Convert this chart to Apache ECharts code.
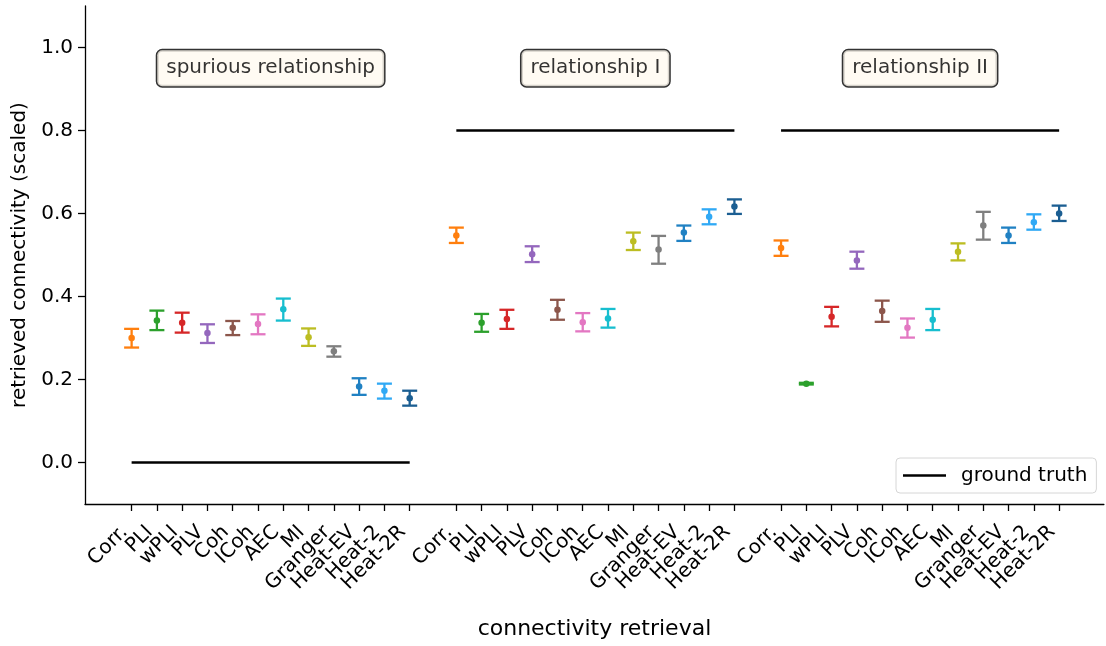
<!DOCTYPE html>
<html>
<head>
<meta charset="utf-8">
<script src="https://cdn.jsdelivr.net/npm/echarts@6/dist/echarts.min.js"></script>
<style>
html,body{margin:0;padding:0;background:#fff;}
#chart{width:1106px;height:646px;}
</style>
</head>
<body>
<div id="chart"></div>
<script>
// ---- data ----
const methods = ['Corr.','PLI','wPLI','PLV','Coh','ICoh','AEC','MI','Granger','Heat-EV','Heat-2','Heat-2R'];
const colors = ['#ff7f0e','#2ca02c','#d62728','#9467bd','#8c564b','#e377c2','#17becf','#bcbd22','#7f7f7f','#2081c3','#30a9f5','#1b5e92'];
const groupTitles = ['spurious relationship','relationship I','relationship II'];
const groundTruth = [0.0, 0.8, 0.8];
const yTicks = [0.0, 0.2, 0.4, 0.6, 0.8, 1.0];

// group 1: spurious relationship
const mean1 = [0.300,0.342,0.337,0.312,0.325,0.334,0.369,0.302,0.268,0.183,0.173,0.155];
const low1  = [0.277,0.319,0.313,0.288,0.307,0.309,0.342,0.281,0.255,0.163,0.154,0.137];
const high1 = [0.322,0.366,0.361,0.333,0.341,0.357,0.395,0.323,0.280,0.203,0.190,0.173];
// group 2: relationship I
const mean2 = [0.547,0.337,0.346,0.502,0.368,0.338,0.347,0.533,0.513,0.554,0.592,0.617];
const low2  = [0.529,0.315,0.322,0.483,0.344,0.316,0.325,0.512,0.479,0.534,0.574,0.599];
const high2 = [0.566,0.358,0.368,0.521,0.392,0.360,0.370,0.554,0.546,0.571,0.610,0.634];
// group 3: relationship II
const mean3 = [0.517,0.190,0.351,0.487,0.365,0.325,0.344,0.508,0.571,0.547,0.579,0.600];
const low3  = [0.498,0.188,0.328,0.467,0.339,0.301,0.319,0.487,0.537,0.529,0.561,0.582];
const high3 = [0.535,0.192,0.375,0.508,0.390,0.347,0.370,0.528,0.604,0.566,0.598,0.619];

const means = [mean1, mean2, mean3];
const lows = [low1, low2, low3];
const highs = [high1, high2, high3];

// ---- layout helpers ----
const GROUP_STEP = 12.845;
const X_MIN = -1.844, X_MAX = 38.46;
const pos = (g, i) => +(g * GROUP_STEP + i).toFixed(3);

const tickVals = [];
const labelMap = {};
const barData = [];
const pointData = [];
for (let g = 0; g < 3; g++) {
  for (let i = 0; i < methods.length; i++) {
    const p = pos(g, i);
    tickVals.push(p);
    labelMap[p.toFixed(3)] = methods[i];
    barData.push([p, lows[g][i], highs[g][i], i]);
    pointData.push([p, means[g][i], i]);
  }
}
// empty labels at the axis ends so that no real label is treated as min/max label
const labelVals = [X_MIN].concat(tickVals, [X_MAX]);

const FONT = 'DejaVu Sans';
const chart = echarts.init(document.getElementById('chart'));

const series = [];
series.push({
  type: 'custom',
  silent: true,
  data: barData,
  encode: { x: 0, y: [1, 2] },
  z: 3,
  renderItem: function (params, api) {
    const x = api.value(0), lo = api.value(1), hi = api.value(2);
    const c = colors[api.value(3)];
    const a = api.coord([x, lo]);
    const b = api.coord([x, hi]);
    const hw = 7.5;
    const st = { stroke: c, lineWidth: 2.3 };
    return {
      type: 'group',
      children: [
        { type: 'line', shape: { x1: a[0], y1: a[1], x2: b[0], y2: b[1] }, style: st },
        { type: 'line', shape: { x1: a[0] - hw, y1: a[1], x2: a[0] + hw, y2: a[1] }, style: st },
        { type: 'line', shape: { x1: b[0] - hw, y1: b[1], x2: b[0] + hw, y2: b[1] }, style: st }
      ]
    };
  }
});
series.push({
  type: 'scatter',
  silent: true,
  data: pointData,
  symbol: 'circle',
  symbolSize: 6.5,
  z: 4,
  itemStyle: { color: function (p) { return colors[p.data[2]]; }, opacity: 1 }
});
for (let g = 0; g < 3; g++) {
  series.push({
    name: 'ground truth',
    type: 'line',
    silent: true,
    symbol: 'none',
    data: [[pos(g, 0), groundTruth[g]], [pos(g, methods.length - 1), groundTruth[g]]],
    lineStyle: { color: '#000', width: 2.5 },
    itemStyle: { color: '#000' },
    z: 2
  });
}
series.push({
  type: 'scatter',
  silent: true,
  symbolSize: 1,
  itemStyle: { color: 'rgba(0,0,0,0)' },
  z: 5,
  data: groupTitles.map((t, g) => ({ name: t, value: [(pos(g, 0) + pos(g, methods.length - 1)) / 2, 0.95] })),
  label: {
    show: true,
    position: 'inside',
    formatter: p => p.name,
    fontFamily: FONT,
    fontSize: 20,
    lineHeight: 22,
    color: '#000',
    backgroundColor: '#fffaf0',
    borderColor: '#000',
    borderWidth: 1.5,
    borderRadius: 5,
    padding: [7, 9, 7, 9]
  }
});

chart.setOption({
  animation: false,
  backgroundColor: '#fff',
  textStyle: { fontFamily: FONT },
  grid: { left: 85, right: 0, top: 6, bottom: 142, containLabel: false },
  legend: {
    data: ['ground truth'],
    left: 896,
    top: 458,
    orient: 'vertical',
    padding: [6, 9, 6, 7],
    icon: 'rect',
    itemWidth: 43,
    itemHeight: 2.5,
    backgroundColor: '#fff',
    borderColor: '#d6d6d6',
    borderWidth: 1,
    borderRadius: 4,
    selectedMode: false,
    textStyle: { fontFamily: FONT, fontSize: 20, lineHeight: 23, color: '#000', padding: [0, 0, 0, 10] }
  },
  xAxis: {
    type: 'value',
    min: X_MIN,
    max: X_MAX,
    name: 'connectivity retrieval',
    nameLocation: 'middle',
    nameGap: 114,
    nameTextStyle: { fontFamily: FONT, fontSize: 22, color: '#000' },
    axisLine: { show: true, onZero: false, lineStyle: { color: '#000', width: 1.3 } },
    axisTick: { show: true, length: 7, lineStyle: { color: '#000', width: 1.3 }, customValues: tickVals },
    axisLabel: {
      show: true,
      rotate: 45,
      margin: 18,
      padding: [0, 10, 0, 0],
      hideOverlap: false,
      fontFamily: FONT,
      fontSize: 20,
      color: '#000',
      customValues: labelVals,
      formatter: v => labelMap[(+v).toFixed(3)] || ''
    },
    splitLine: { show: false }
  },
  yAxis: {
    type: 'value',
    min: -0.1,
    max: 1.1,
    name: 'retrieved connectivity (scaled)',
    nameLocation: 'middle',
    nameGap: 53,
    nameTextStyle: { fontFamily: FONT, fontSize: 20, color: '#000' },
    axisLine: { show: true, onZero: false, lineStyle: { color: '#000', width: 1.3 } },
    axisTick: { show: true, length: 7, lineStyle: { color: '#000', width: 1.3 }, customValues: yTicks },
    axisLabel: {
      show: true,
      margin: 12,
      fontFamily: FONT,
      fontSize: 20,
      color: '#000',
      customValues: yTicks,
      formatter: v => (+v).toFixed(1)
    },
    splitLine: { show: false }
  },
  series: series
});
</script>
</body>
</html>
